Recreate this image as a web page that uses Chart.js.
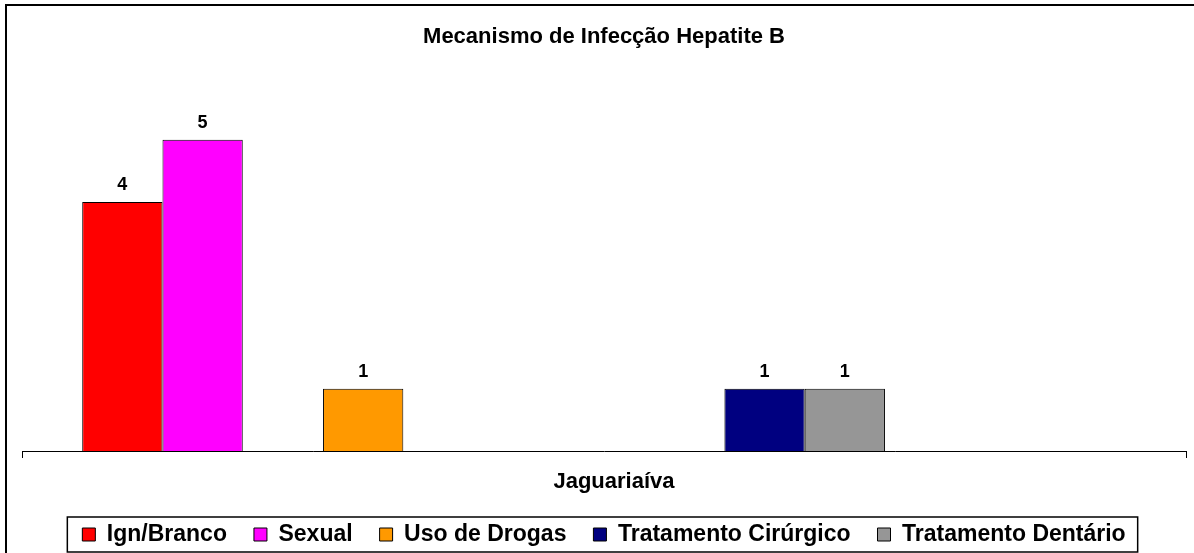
<!DOCTYPE html>
<html>
<head>
<meta charset="utf-8">
<script src="https://cdn.jsdelivr.net/npm/chart.js@4.4.0/dist/chart.umd.min.js"></script>
<style>
html, body { margin: 0; padding: 0; background: #fff; }
#wrap { width: 1194px; height: 553px; }
</style>
</head>
<body>
<div id="wrap"><canvas id="chart1"></canvas></div>
<script>
// one category, 13 series slots (unnamed slots are empty in the source chart)
var categories = ["Jaguariaíva"];
var seriesNames = ["Ign/Branco", "Sexual", "", "Uso de Drogas", "", "", "", "", "Tratamento Cirúrgico", "Tratamento Dentário", "", "", ""];
var seriesValues = [4, 5, null, 1, null, null, null, null, 1, 1, null, null, null];
var seriesColors = ["#FF0000", "#FF00FF", "#FFFFFF", "#FF9900", "#FFFFFF", "#FFFFFF", "#FFFFFF", "#FFFFFF", "#000080", "#969696", "#FFFFFF", "#FFFFFF", "#FFFFFF"];
var yMax = 6;

var font = "'Liberation Sans', Arial, sans-serif";

var datasets = [];
for (var i = 0; i < seriesNames.length; i++) {
	datasets.push({
		label: seriesNames[i],
		data: [seriesValues[i]],
		backgroundColor: seriesColors[i],
		borderColor: "#000",
		borderWidth: 1,
		barPercentage: 1,
		categoryPercentage: seriesNames.length / (seriesNames.length + 1.5)
	});
}

var valueLabels = {
	id: "valueLabels",
	afterDatasetsDraw: function(chart) {
		var ctx = chart.ctx;
		ctx.save();
		ctx.font = "bold 18px " + font;
		ctx.fillStyle = "#000";
		ctx.textAlign = "center";
		ctx.textBaseline = "alphabetic";
		chart.data.datasets.forEach(function(ds, i) {
			var meta = chart.getDatasetMeta(i);
			meta.data.forEach(function(bar, j) {
				if (ds.data[j] == null) return;
				ctx.fillText(ds.data[j], bar.x, bar.y - 12);
			});
		});
		ctx.restore();
	}
};

var frames = {
	id: "frames",
	afterDraw: function(chart) {
		var ctx = chart.ctx;
		ctx.save();
		ctx.strokeStyle = "#000";
		ctx.lineWidth = 2;
		ctx.strokeRect(6, 5, 1300, 700);
		var boxes = chart.legend.legendHitBoxes;
		if (boxes && boxes.length) {
			var first = boxes[0], last = boxes[boxes.length - 1];
			var cy = first.top + first.height / 2;
			ctx.lineWidth = 1.5;
			ctx.strokeRect(first.left - 15, cy - 17.5, (last.left + last.width + 12) - (first.left - 15), 35);
		}
		ctx.restore();
	}
};

new Chart(document.getElementById("chart1"), {
	type: "bar",
	data: {
		labels: categories,
		datasets: datasets
	},
	options: {
		responsive: true,
		maintainAspectRatio: false,
		animation: false,
		layout: { padding: { left: 22, right: 8, top: 0, bottom: -3 } },
		plugins: {
			title: {
				display: true,
				text: "Mecanismo de Infecção Hepatite B",
				color: "#000",
				font: { family: font, size: 22, weight: "bold" },
				padding: { top: 24, bottom: 27 }
			},
			legend: {
				position: "bottom",
				labels: {
					color: "#000",
					font: { family: font, size: 23, weight: "bold" },
					boxWidth: 13,
					boxHeight: 13,
					padding: 27,
					filter: function(item) { return item.text !== ""; }
				}
			},
			tooltip: { enabled: false }
		},
		scales: {
			x: {
				grid: { drawOnChartArea: false, drawTicks: true, tickLength: 7, color: "#000", offset: true },
				border: { display: true, color: "#000", width: 1 },
				ticks: { color: "#000", font: { family: font, size: 22, weight: "bold" }, padding: 11, labelOffset: 10 },
				afterFit: function(scale) { scale.height = 45; }
			},
			y: {
				display: false,
				min: 0,
				max: yMax
			}
		}
	},
	plugins: [valueLabels, frames]
});
</script>
</body>
</html>
